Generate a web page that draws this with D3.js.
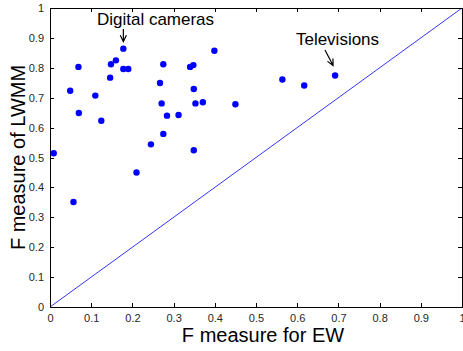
<!DOCTYPE html>
<html><head><meta charset="utf-8">
<script src="https://cdn.jsdelivr.net/npm/d3@7"></script>
<style>body{margin:0;background:#fff}svg{display:block}</style>
</head><body>
<svg id="c" width="463" height="351"></svg>
<script>
const ewValues = [0.009,0.049,0.057,0.069,0.070,0.110,0.1245,0.146,0.148,0.160,0.178,0.178,0.190,0.210,0.245,0.267,0.271,0.275,0.275,0.284,0.312,0.340,0.348,0.349,0.349,0.353,0.371,0.399,0.450,0.564,0.617,0.692];
const lwmmValues = [0.514,0.723,0.351,0.803,0.649,0.707,0.623,0.767,0.812,0.825,0.864,0.796,0.796,0.450,0.544,0.749,0.681,0.812,0.579,0.640,0.642,0.803,0.809,0.729,0.524,0.681,0.685,0.857,0.678,0.761,0.741,0.774];
const tickValues = [0,0.1,0.2,0.3,0.4,0.5,0.6,0.7,0.8,0.9,1];
const tickLabels = ["0","0.1","0.2","0.3","0.4","0.5","0.6","0.7","0.8","0.9","1"];
const annotations = [
  {label:"Digital cameras", x:0.178, y:0.864},
  {label:"Televisions", x:0.692, y:0.774}
];

const L=50,R=462,T=8,B=307;
const svg=d3.select("#c");
const x=d3.scaleLinear().domain([0,1]).range([L,R]);
const y=d3.scaleLinear().domain([0,1]).range([B,T]);
const font="Liberation Sans, Arial, sans-serif";

const defs=svg.append("defs");

// diagonal line
svg.append("line").attr("x1",x(0)).attr("y1",y(0)).attr("x2",x(1)).attr("y2",y(1))
  .attr("stroke","#0000ff").attr("stroke-width",0.8);

// frame
svg.append("rect").attr("x",L).attr("y",T).attr("width",R-L).attr("height",B-T)
  .attr("fill","none").attr("stroke","#000").attr("stroke-width",1).attr("shape-rendering","crispEdges");

const fmt=(d)=>tickLabels[tickValues.indexOf(d)];
const axB=d3.axisBottom(x).tickValues(tickValues).tickFormat(fmt).tickSizeInner(-4).tickSizeOuter(0).tickPadding(7);
const axT=d3.axisTop(x).tickValues(tickValues).tickFormat("").tickSizeInner(-4).tickSizeOuter(0);
const axL=d3.axisLeft(y).tickValues(tickValues).tickFormat(fmt).tickSizeInner(-4).tickSizeOuter(0).tickPadding(6);
const axRt=d3.axisRight(y).tickValues(tickValues).tickFormat("").tickSizeInner(-4).tickSizeOuter(0);

function style(g){
  g.select(".domain").remove();
  g.selectAll(".tick line").attr("stroke","#000").attr("shape-rendering","crispEdges");
  g.selectAll(".tick text").attr("font-family",font).attr("font-size",11).attr("fill","#262626");
}
svg.append("g").attr("transform",`translate(0,${B})`).call(axB).call(style);
svg.append("g").attr("transform",`translate(0,${T})`).call(axT).call(style);
svg.append("g").attr("transform",`translate(${L},0)`).call(axL).call(style);
svg.append("g").attr("transform",`translate(${R},0)`).call(axRt).call(style);

// points
svg.append("g").selectAll("circle").data(ewValues.map((v,i)=>[v,lwmmValues[i]])).join("circle")
  .attr("cx",d=>x(d[0])).attr("cy",d=>y(d[1])).attr("r",3.2).attr("fill","#0000ff");

// axis titles
svg.append("text").attr("x",263).attr("y",342).attr("text-anchor","middle")
  .attr("font-family",font).attr("font-size",20).attr("fill","#000").text("F measure for EW");
svg.append("text").attr("transform",`translate(25,${(T+B)/2}) rotate(-90)`).attr("text-anchor","middle")
  .attr("font-family",font).attr("font-size",20).attr("fill","#000").text("F measure of LWMM");

// annotations
function arrow(x1,y1,x2,y2){
  const ang=Math.atan2(y2-y1,x2-x1), h=7, a=0.45;
  const p=`M${x1},${y1}L${x2},${y2}M${x2-h*Math.cos(ang-a)},${y2-h*Math.sin(ang-a)}L${x2},${y2}L${x2-h*Math.cos(ang+a)},${y2-h*Math.sin(ang+a)}`;
  svg.append("path").attr("d",p).attr("fill","none").attr("stroke","#000").attr("stroke-width",1.2);
}
// Digital cameras
{
  const a=annotations[0];
  svg.append("text").attr("x",155.5).attr("y",25).attr("text-anchor","middle")
    .attr("font-family",font).attr("font-size",17).attr("fill","#000").text(a.label);
  arrow(x(a.x),29,x(a.x),y(a.y)-7);
}
{
  const a=annotations[1];
  svg.append("text").attr("x",337.5).attr("y",45).attr("text-anchor","middle")
    .attr("font-family",font).attr("font-size",17).attr("fill","#000").text(a.label);
  arrow(325,50,x(a.x)-2,y(a.y)-10);
}
</script>
</body></html>
